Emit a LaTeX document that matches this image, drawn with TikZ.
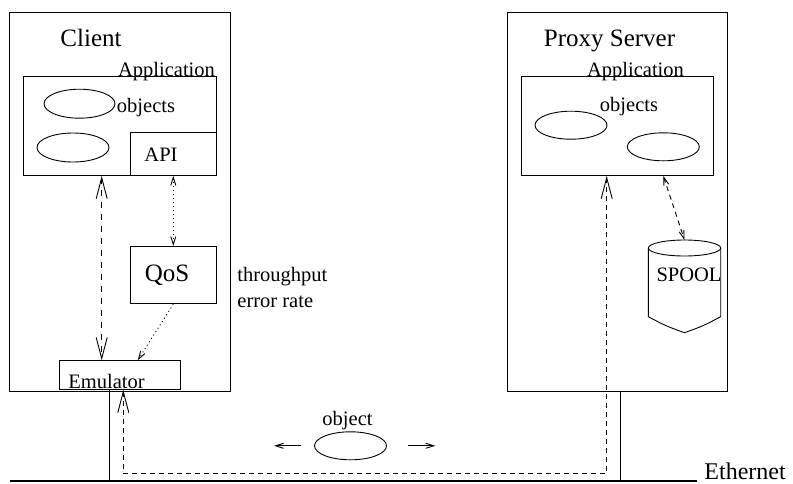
\documentclass[tikz,border=0pt]{standalone}
\usepackage{fontspec}
\setmainfont{Liberation Serif}
\usetikzlibrary{arrows.meta,shapes.geometric}

\newcommand{\bigtxt}{\fontsize{25}{30}\selectfont}
\newcommand{\smtxt}{\fontsize{20.5}{25}\selectfont}

\begin{document}
\begin{tikzpicture}
[
x=1pt, y=-1pt,
line width=0.9pt,
box/.style={draw, rectangle, inner sep=0pt, anchor=north west},
obj/.style={draw, ellipse, inner sep=0pt, minimum width=72pt, minimum height=28pt},
txt/.style={inner sep=0pt, anchor=base, font=\smtxt},
bigtxt/.style={inner sep=0pt, anchor=base, font=\bigtxt},
bigarrow/.style={{Straight Barb[length=21pt,width=11pt]}-{Straight Barb[length=21pt,width=11pt]}},
smallarrow/.style={{Straight Barb[length=8pt,width=5pt]}-{Straight Barb[length=8pt,width=5pt]}},
onearrow/.style={-{Straight Barb[length=8pt,width=5pt]}},
longdash/.style={dash pattern=on 6pt off 6pt},
shortdash/.style={dash pattern=on 5pt off 4pt},
dots/.style={dash pattern=on 1pt off 3pt}
]
\useasboundingbox (0,0) rectangle (793,483);

% client side
\node[box, minimum width=221pt, minimum height=379pt] (client) at (9,12) {};
\node[bigtxt] (clientlbl) at (91,46.7) {Client};
\node[box, minimum width=192.4pt, minimum height=99pt] (capp) at (23.3,76) {};
\node[txt] (capplbl) at (166.5,76) {Application};
\node[obj, minimum width=71pt, minimum height=29pt] (cobja) at (79.5,103.7) {};
\node[obj, minimum height=29pt] (cobjb) at (73,147.5) {};
\node[txt] (cobjlbl) at (146,112) {objects};
\node[box, minimum width=85.7pt, minimum height=42.7pt] (api) at (130,132.3) {};
\node[txt] (apilbl) at (161,161.7) {API};
\node[box, minimum width=85.7pt, minimum height=57.3pt] (qos) at (130,246) {};
\node[bigtxt] (qoslbl) at (167,281.7) {QoS};
\node[txt, anchor=base west] (thru) at (237,281.7) {throughput};
\node[txt, anchor=base west] (err) at (237,307.7) {error rate};
\node[box, minimum width=121pt, minimum height=28.7pt] (emu) at (59.3,360.3) {};
\node[txt] (emulbl) at (106.5,388) {Emulator};

% server side
\node[box, minimum width=220.6pt, minimum height=379.3pt] (server) at (506.7,11.7) {};
\node[bigtxt] (serverlbl) at (609.5,46.7) {Proxy Server};
\node[box, minimum width=191.7pt, minimum height=99pt] (sapp) at (521,76) {};
\node[txt] (sapplbl) at (635.5,76) {Application};
\node[txt] (sobjlbl) at (629,111.7) {objects};
\node[obj] (sobja) at (571,125.2) {};
\node[obj] (sobjb) at (663.3,146.8) {};

% spool
\coordinate (spool) at (684.5,240);
\draw (684.5,248) ellipse [x radius=36.2, y radius=8];
\draw (648.3,248) -- (648.3,316.7) .. controls (666,326) .. (684.5,332.7)
  .. controls (703,326) .. (720.7,316.7) -- (720.7,248);
\node[txt] (spoollbl) at (689,281.7) {SPOOL};

% network
\coordinate (ethl) at (10,481);
\coordinate (ethr) at (696.7,481);
\coordinate (turn) at (606.7,473.3);
\draw[line width=1.3pt] (ethl) -- (ethr);
\node[bigtxt, anchor=base west, font=\fontsize{24}{29}\selectfont] (ethlbl) at (704,479) {Ethernet};
\draw[line width=1.2pt] ([xshift=50pt]emu.south west) -- ([xshift=50pt]emu.south west |- ethl);
\draw[line width=1.2pt] ([xshift=114pt]server.south west) -- ([xshift=114pt]server.south west |- ethl);
\node[obj] (netobj) at (350.5,445.8) {};
\node[txt] (netobjlbl) at (347.5,425) {object};
\draw[onearrow] ([xshift=-12.6pt]netobj.west) -- ([xshift=-40pt]netobj.west);
\draw[onearrow] ([xshift=20.6pt]netobj.east) -- ([xshift=48.3pt]netobj.east);

% connectors
\draw[bigarrow, longdash] ([xshift=42.4pt]emu.north west |- capp.south) -- ([xshift=42.4pt]emu.north west);
\draw[smallarrow, dots] (api.south) -- (qos.north);
\draw[onearrow, dots] (qos.south) -- ([xshift=78.4pt]emu.north west);
\draw[bigarrow, shortdash] ([xshift=64pt]emu.south west) |- (turn) -- (turn |- sapp.south);
\draw[smallarrow, shortdash] ([xshift=142.3pt]sapp.south west) -- (spool);
\end{tikzpicture}
\end{document}
